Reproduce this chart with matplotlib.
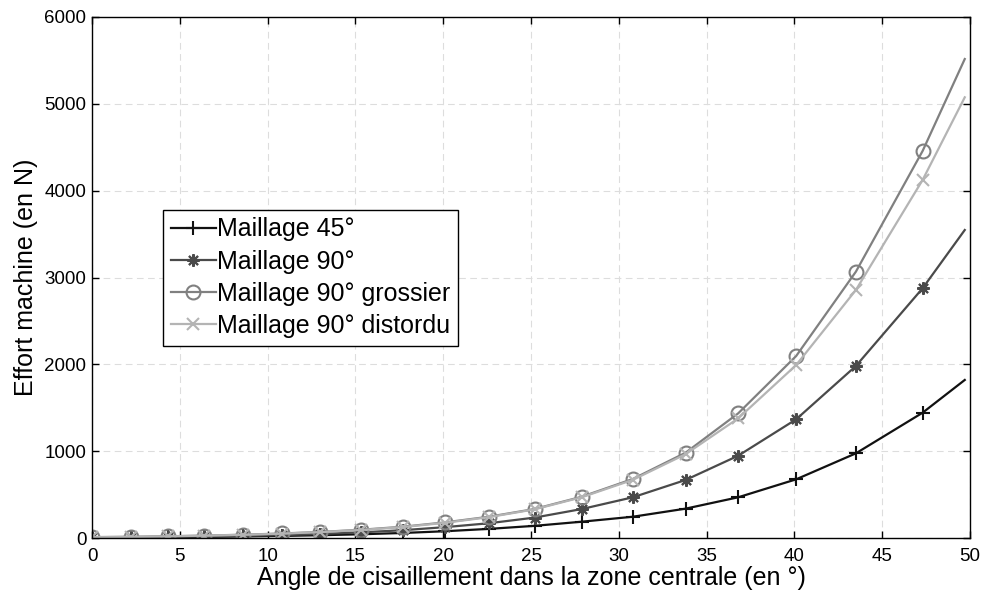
import matplotlib
matplotlib.use("Agg")
import matplotlib.pyplot as plt

plt.rcParams['font.family'] = ['Liberation Sans', 'DejaVu Sans']

# angles (en °) des points relevés ; le dernier point = fin de courbe (sans marqueur)
angles = [0, 2.2, 4.3, 6.4, 8.6, 10.8, 13.0, 15.3, 17.7, 20.1, 22.6, 25.2,
          27.9, 30.8, 33.8, 36.8, 40.1, 43.5, 47.3, 49.7]

effort_45 = [5, 7, 10, 13, 18, 24, 32, 43, 58, 78, 105, 140,
             188, 245, 338, 469, 676, 975, 1443, 1820]
effort_90 = [6, 9, 13, 18, 25, 34, 47, 65, 90, 125, 170, 235,
             334, 469, 668, 948, 1367, 1981, 2876, 3547]
effort_90_grossier = [10, 14, 20, 28, 38, 52, 70, 95, 130, 180, 245, 334,
                      476, 680, 982, 1436, 2096, 3067, 4457, 5516]
effort_90_distordu = [10, 14, 19, 27, 37, 50, 68, 92, 126, 175, 240, 330,
                      470, 670, 965, 1378, 1992, 2856, 4123, 5075]

series = [
    ("Maillage 45°", effort_45, "#111111", "+", 10, dict()),
    ("Maillage 90°", effort_90, "#4a4a4a", (8, 2, 0), 9, dict()),
    ("Maillage 90° grossier", effort_90_grossier, "#808080", "o", 10,
     dict(markerfacecolor="none")),
    ("Maillage 90° distordu", effort_90_distordu, "#b4b4b4", "x", 8, dict()),
]

fig = plt.figure(figsize=(9.83, 5.92), dpi=100)
ax = fig.add_axes([0.0936, 0.0912, 0.8932, 0.8801])

for nom, vals, col, mk, ms, extra in series:
    ax.plot(angles, vals, color=col, lw=1.6, marker=mk, markersize=ms,
            markeredgewidth=1.5, markevery=slice(0, len(angles) - 1),
            label=nom, **extra)

ax.set_xlim(0, 50)
ax.set_ylim(0, 6000)
ax.set_xticks(range(0, 51, 5))
ax.set_yticks(range(0, 6001, 1000))
ax.grid(True, linestyle=(0, (6, 4)), color="#dddddd", linewidth=0.8)
ax.set_axisbelow(True)
ax.tick_params(direction="in", top=True, right=True, length=5, width=1,
               labelsize=13.5)
ax.tick_params(axis="x", pad=7)
ax.tick_params(axis="y", pad=4)
for s in ax.spines.values():
    s.set_linewidth(1)

ax.set_xlabel("Angle de cisaillement dans la zone centrale (en °)",
              fontsize=18, labelpad=1)
ax.set_ylabel("Effort machine (en N)", fontsize=18, labelpad=5)

leg = ax.legend(loc="upper left", bbox_to_anchor=(0.081, 0.63),
                borderaxespad=0, fontsize=18, fancybox=False,
                edgecolor="black", framealpha=1, handlelength=1.8,
                handletextpad=0.05, labelspacing=0.33, borderpad=0.3)
leg.get_frame().set_linewidth(1)

fig.savefig("out.png", dpi=100)
